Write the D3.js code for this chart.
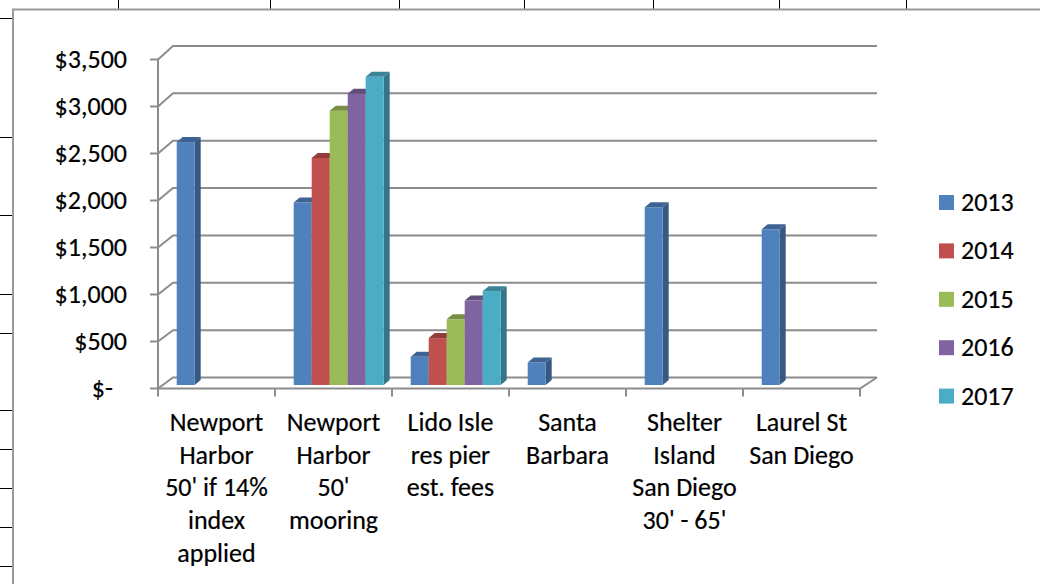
<!DOCTYPE html>
<html>
<head>
<meta charset="utf-8">
<script src="https://cdn.jsdelivr.net/npm/d3@7"></script>
<style>
  html, body { margin: 0; padding: 0; background: #fff; }
  svg { display: block; font-family: Carlito, Lato, "Liberation Sans", sans-serif; }
  text { stroke: #000; stroke-width: 0.2px; }
</style>
</head>
<body>
<svg id="chart" width="1040" height="584"></svg>
<script>
// Mooring / pier fee comparison, by location and year
const categories = [
  "Newport\nHarbor\n50' if 14%\nindex\napplied",
  "Newport\nHarbor\n50'\nmooring",
  "Lido Isle\nres pier\nest. fees",
  "Santa\nBarbara",
  "Shelter\nIsland\nSan Diego\n30' - 65'",
  "Laurel St\nSan Diego"
];
const seriesNames = ["2013", "2014", "2015", "2016", "2017"];
const fees2013 = [2590, 1945, 300, 240, 1895, 1660];
const fees2014 = [null, 2420, 500, null, null, null];
const fees2015 = [null, 2925, 700, null, null, null];
const fees2016 = [null, 3105, 900, null, null, null];
const fees2017 = [null, 3285, 1000, null, null, null];
const yTicks = [0, 500, 1000, 1500, 2000, 2500, 3000, 3500];
const seriesColors = ["#4F81BD", "#C0504D", "#9BBB59", "#8064A2", "#4BACC6"];

const seriesValues = [fees2013, fees2014, fees2015, fees2016, fees2017];

const fontSize = 26;
const capMid = 8.4;     // half the cap height, to centre digits on a y position

const svg = d3.select("#chart");

// worksheet cell borders around the embedded chart
const sheetCols = [118, 270, 399, 524, 653, 779, 906];
const sheetRows = [18, 137, 215, 294, 333, 410, 449, 488, 527, 566];
svg.append("g").selectAll("line").data(sheetCols).join("line")
  .attr("x1", d => d + 0.5).attr("x2", d => d + 0.5)
  .attr("y1", 0).attr("y2", 10)
  .attr("stroke", "#000").attr("stroke-width", 1);
svg.append("g").selectAll("line").data(sheetRows).join("line")
  .attr("x1", 0).attr("x2", 13)
  .attr("y1", d => d + 0.5).attr("y2", d => d + 0.5)
  .attr("stroke", "#000").attr("stroke-width", 1);

// chart object frame
svg.append("rect")
  .attr("x", 13).attr("y", 9.5).attr("width", 1100).attr("height", 700)
  .attr("fill", "#fff").attr("stroke", "#9a9a9a").attr("stroke-width", 2);

// 3-D geometry: front plane of the floor, back wall, bar plane
const left = 158, right = 860;
const backDx = 15;                          // depth shift of back wall
const barDx = 5.2;                          // bar front face shift into depth
const sideDx = 6, sideDy = -5;              // bar depth (side/top faces)

const yFront = d3.scaleLinear().domain([0, 3500]).range([388.5, 59.5]);
const yBack  = d3.scaleLinear().domain([0, 3500]).range([377.5, 46]);
const yBar   = d3.scaleLinear().domain([0, 3500]).range([385, 56.7]);

const x0 = d3.scaleBand().domain(categories).range([left, right]).paddingInner(0).paddingOuter(0);
const x1 = d3.scaleBand().domain(seriesNames).range([0, x0.bandwidth()])
  .paddingInner(0).paddingOuter(0.75);

const gridColor = "#8c8c8c";
const grid = svg.append("g").attr("fill", "none").attr("stroke", gridColor).attr("stroke-width", 2);

// back wall gridlines with diagonal connectors to the value axis
yTicks.forEach(v => {
  grid.append("path")
    .attr("d", `M${left},${yFront(v)}L${left + backDx},${yBack(v)}L${right + 17},${yBack(v)}`);
});
// value axis
grid.append("line").attr("x1", left).attr("x2", left)
  .attr("y1", yFront(3500)).attr("y2", yFront(0));
// value axis tick marks
grid.selectAll(".ytick").data(yTicks).join("line").attr("class", "ytick")
  .attr("x1", left - 8).attr("x2", left)
  .attr("y1", d => yFront(d)).attr("y2", d => yFront(d));
// floor front edge and right side
grid.append("path")
  .attr("d", `M${left},${yFront(0)}L${right},${yFront(0)}L${right + 17},${yBack(0)}`);
// category tick marks
const catEdges = categories.map(c => x0(c)).concat([right]);
grid.selectAll(".xtick").data(catEdges).join("line").attr("class", "xtick")
  .attr("x1", d => d).attr("x2", d => d)
  .attr("y1", yFront(0)).attr("y2", yFront(0) + 8);

// value labels (accounting style)
const fmt = d3.format("$,");
svg.append("g").selectAll("text").data(yTicks).join("text")
  .attr("x", d => d === 0 ? 113 : 127)
  .attr("y", d => yFront(d) + capMid)
  .attr("text-anchor", "end")
  .attr("font-size", fontSize)
  .attr("fill", "#000")
  .text(d => d === 0 ? "$-" : fmt(d));

// 3-D columns
const bars = svg.append("g");
categories.forEach((c, ci) => {
  seriesNames.forEach((s, si) => {
    const v = seriesValues[si][ci];
    if (v == null) return;
    const color = d3.color(seriesColors[si]);
    const xl = x0(c) + x1(s) + barDx;
    const w = x1.bandwidth();
    const yt = yBar(v), yb = yBar(0);
    const g = bars.append("g");
    // side face
    g.append("path")
      .attr("d", `M${xl + w},${yt}L${xl + w + sideDx},${yt + sideDy}L${xl + w + sideDx},${yb + sideDy}L${xl + w},${yb}Z`)
      .attr("fill", color.darker(1.05));
    // front face
    g.append("rect")
      .attr("x", xl).attr("y", yt).attr("width", w).attr("height", yb - yt)
      .attr("fill", seriesColors[si]);
    // top face
    g.append("path")
      .attr("d", `M${xl},${yt}L${xl + w},${yt}L${xl + w + sideDx},${yt + sideDy}L${xl + sideDx},${yt + sideDy}Z`)
      .attr("fill", color.darker(0.75));
  });
});

// category labels
const catLabels = svg.append("g").attr("font-size", fontSize).attr("fill", "#000").attr("text-anchor", "middle");
categories.forEach(c => {
  const cx = x0(c) + x0.bandwidth() / 2;
  const t = catLabels.append("text").attr("x", cx).attr("y", 422.7 + capMid);
  c.split("\n").forEach((line, i) => {
    t.append("tspan")
      .attr("x", cx)
      .attr("dy", i === 0 ? 0 : 32.6)
      .text(line);
  });
});

// legend
const legend = svg.append("g");
seriesNames.forEach((s, i) => {
  const cy = 202.5 + i * 48.4;
  legend.append("rect")
    .attr("x", 939).attr("y", cy - 7.5).attr("width", 15).attr("height", 15)
    .attr("fill", seriesColors[i]);
  legend.append("text")
    .attr("x", 961).attr("y", cy + capMid)
    .attr("font-size", fontSize).attr("fill", "#000")
    .text(s);
});
</script>
</body>
</html>
